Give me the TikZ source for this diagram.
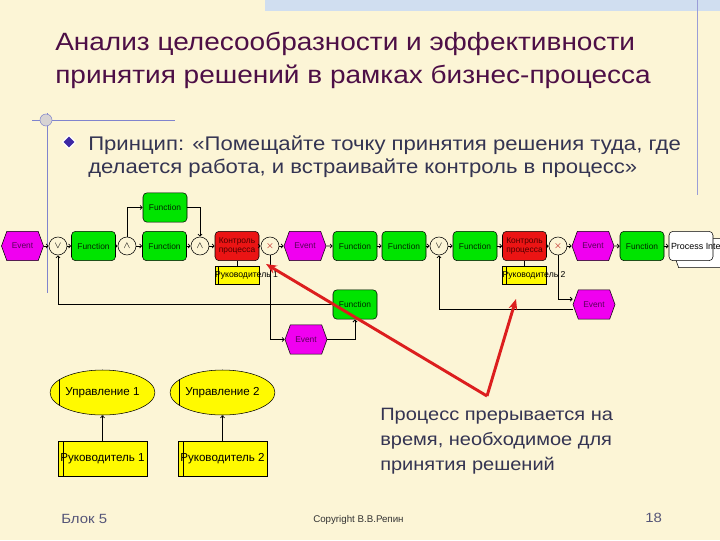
\documentclass[tikz,border=0pt]{standalone}
\usepackage{fontspec}
\setmainfont{Liberation Sans}
\newfontfamily\slidefont[FakeStretch=1.12]{Liberation Sans}
\usepackage{tikz}
\usetikzlibrary{shapes.geometric, shapes.symbols, arrows.meta, positioning, calc}
\definecolor{paper}{RGB}{252,245,214}
\definecolor{bandblue}{RGB}{208,222,240}
\definecolor{titleplum}{RGB}{77,15,70}
\definecolor{slateink}{RGB}{52,52,82}
\definecolor{footink}{RGB}{85,85,120}
\definecolor{decoblue}{RGB}{128,132,205}
\definecolor{bulletblue}{RGB}{60,40,165}
\definecolor{fngreen}{RGB}{0,228,0}
\definecolor{evmagenta}{RGB}{240,0,240}
\definecolor{ctlred}{RGB}{235,20,20}
\definecolor{orgyellow}{RGB}{255,250,0}
\definecolor{callred}{RGB}{220,30,30}

\begin{document}
\begin{tikzpicture}[
    x=0.75pt, y=-0.75pt,
    every node/.style={inner sep=0pt},
    fn/.style={rectangle, draw, fill=fngreen, rounded corners=3pt, minimum width=33pt, minimum height=22pt, font=\fontsize{6.3}{7}\selectfont, text=black!85!green},
    ctl/.style={fn, fill=ctlred, align=center, text=red!30!black},
    ev/.style={signal, signal to=west and east, signal pointer angle=140, draw, fill=evmagenta, minimum width=31.5pt, minimum height=22pt, font=\fontsize{6.3}{7}\selectfont, text=violet!70!black},
    op/.style={circle, draw, fill=paper, minimum size=13.5pt, font=\fontsize{7}{7}\selectfont},
    org/.style={rectangle, draw, fill=orgyellow, minimum width=33pt, minimum height=13.5pt, path picture={\draw ([xshift=2.5pt]path picture bounding box.north west) -- ([xshift=2.5pt]path picture bounding box.south west);}},
    orgbig/.style={rectangle, draw, fill=orgyellow, minimum width=66.75pt, minimum height=26.25pt, font=\fontsize{8.7}{10}\selectfont, path picture={\draw ([xshift=3.75pt]path picture bounding box.north west) -- ([xshift=3.75pt]path picture bounding box.south west);}},
    unit/.style={ellipse, draw, fill=orgyellow, minimum width=66.75pt, minimum height=33.75pt, font=\fontsize{8.7}{10}\selectfont, path picture={\draw ([xshift=6.75pt]path picture bounding box.north west) -- ([xshift=6.75pt]path picture bounding box.south west);}},
    orglabel/.style={anchor=west, font=\fontsize{6.5}{7}\selectfont},
    flow/.style={-{Straight Barb[length=1.5pt, width=3pt]}, line width=0.6pt},
    callout/.style={-{Stealth[length=8pt, width=6.5pt]}, line width=2.2pt, callred},
]

% Slide background
\fill[paper] (0,0) rectangle (720,540);
\useasboundingbox (0,0) rectangle (720,540);
\fill[bandblue] (265,0) rectangle (720,11);
\draw[decoblue!80, line width=0.6pt] (697,0) -- (697,195);
\draw[decoblue, line width=0.6pt] (32,120) -- (175,120);
\draw[decoblue, line width=0.6pt] (47,113) -- (47,293);
\draw[decoblue, fill=paper!70!decoblue] (46,120) circle (4.5pt);

% Title and principle
\node[anchor=base west, font=\slidefont\fontsize{18.75}{22}\selectfont, text=titleplum] (title1) at (55,50) {Анализ целесообразности и эффективности};
\node[anchor=base west, font=\slidefont\fontsize{18.75}{22}\selectfont, text=titleplum] (title2) at (55,83) {принятия решений в рамках бизнес-процесса};
\node[diamond, draw=white, line width=0.9pt, fill=bulletblue, minimum size=10pt] (bul) at (69,142) {};
\node[anchor=base west, font=\slidefont\fontsize{14.8}{17}\selectfont, text=slateink] (prin1) at (88,150) {Принцип: «Помещайте точку принятия решения туда, где};
\node[anchor=base west, font=\slidefont\fontsize{14.8}{17}\selectfont, text=slateink] (prin2) at (88,173) {делается работа, и встраивайте контроль в процесс»};

% Main process chain
\node[ev] (ev1) at (22.5,246) {Event};
\node[op] (or1) at (58,246) {$\vee$};
\node[fn] (fn1) at (93.5,246) {Function};
\node[op] (and1) at (127,246) {$\wedge$};
\node[fn] (fn2) at (164.5,246) {Function};
\node[fn] (fntop) at (165,207.5) {Function};
\node[op] (and2) at (200,246) {$\wedge$};
\node[ctl] (ctl1) at (237,246) {Контроль\\процесса};
\node[op, text=red!70!black] (xor1) at (270,246) {$\times$};
\node[ev] (ev2) at (305,246) {Event};
\node[fn] (fn3) at (355,246) {Function};
\node[fn] (fn4) at (404,246) {Function};
\node[op] (or2) at (439,246) {$\vee$};
\node[fn] (fn5) at (475,246) {Function};
\node[ctl] (ctl2) at (524.5,246) {Контроль\\процесса};
\node[op, text=red!70!black] (xor2) at (558,246) {$\times$};
\node[ev] (ev3) at (593,246) {Event};
\node[fn] (fn6) at (642,246) {Function};
\node[ev, fill=white, minimum width=40pt] (pifback) at (700,253) {};
\node[fn, fill=white, label={[orglabel, font=\fontsize{6.7}{7}\selectfont, xshift=1.5pt]west:Process Inte}] (pif) at (691,246) {};

\foreach \a/\b in {ev1/or1, or1/fn1, fn1/and1, and1/fn2, fn2/and2, and2/ctl1, ctl1/xor1, xor1/ev2, ev2/fn3, fn3/fn4, fn4/or2, or2/fn5, fn5/ctl2, ctl2/xor2, xor2/ev3, ev3/fn6, fn6/pif}
    \draw[flow] (\a) -- (\b);
\draw[flow] (and1.north) |- (fntop.west);
\draw[flow] (fntop.east) -| (and2.north);

% Decision makers on the control steps
\node[org, label={[orglabel]west:Руководитель 1}] (ruk1) at (237,275) {};
\node[org, label={[orglabel]west:Руководитель 2}] (ruk2) at (524.5,275) {};
\draw[line width=0.6pt] (ctl1.south) -- (ruk1.north);
\draw[line width=0.6pt] (ctl2.south) -- (ruk2.north);

% Rework loops
\node[fn] (fnlow) at (355,304.5) {Function};
\node[ev] (evlow1) at (306,339.5) {Event};
\node[ev] (evlow2) at (594,304.5) {Event};
\draw[flow] (fnlow.west) -| (or1.south);
\draw[flow] (xor1.south) |- (evlow1.west);
\draw[flow] (evlow1.east) -| (fnlow.south);
\draw[flow] (xor2.south) |- ([yshift=4pt]evlow2.west);
\draw[flow] ([yshift=-3.5pt]evlow2.west) -| (or2.south);

% Org structure
\node[unit] (upr1) at (102.5,392.5) {Управление 1};
\node[unit] (upr2) at (222.5,392.5) {Управление 2};
\node[orgbig] (boss1) at (102.5,458.5) {Руководитель 1};
\node[orgbig] (boss2) at (222.5,458.5) {Руководитель 2};
\draw[flow] (boss1.north) -- (upr1.south);
\draw[flow] (boss2.north) -- (upr2.south);

% Callout
\node[anchor=base west, font=\slidefont\fontsize{13.4}{16}\selectfont, text=slateink] (note1) at (380,420) {Процесс прерывается на};
\node[anchor=base west, font=\slidefont\fontsize{13.4}{16}\selectfont, text=slateink] (note2) at (380,445) {время, необходимое для};
\node[anchor=base west, font=\slidefont\fontsize{13.4}{16}\selectfont, text=slateink] (note3) at (380,470) {принятия решений};
\coordinate (pause) at (487,396);
\coordinate (hit1) at (266,264);
\coordinate (hit2) at (516,299);
\draw[callout] (pause) -- (hit1);
\draw[callout] (pause) -- (hit2);

% Footer
\node[anchor=base west, font=\slidefont\fontsize{10}{12}\selectfont, text=footink] (block) at (61,523) {Блок 5};
\node[anchor=base west, font=\fontsize{7.3}{8}\selectfont, text=black!80] (copy) at (313,522) {Copyright В.В.Репин};
\node[anchor=base west, font=\slidefont\fontsize{10}{12}\selectfont, text=footink] (pageno) at (645,522) {18};

\end{tikzpicture}
\end{document}
